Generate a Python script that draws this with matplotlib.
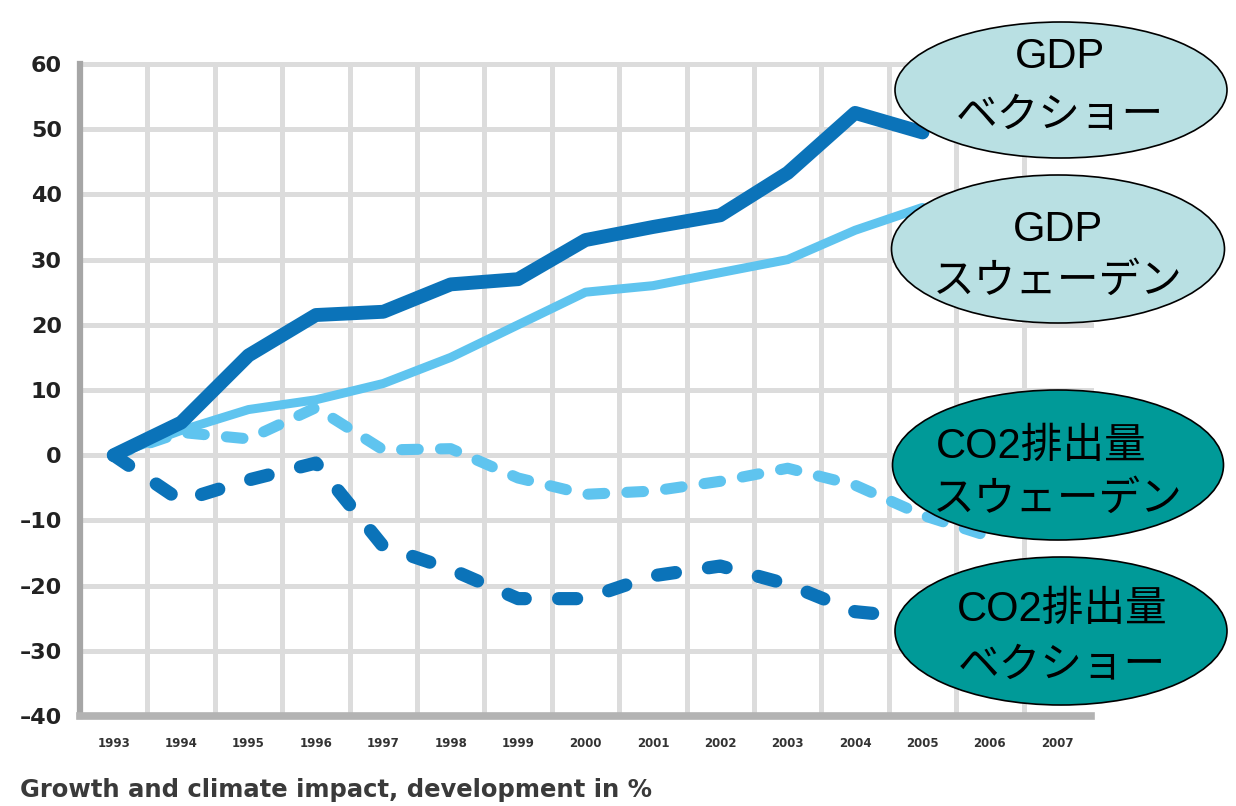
import matplotlib
matplotlib.use('Agg')
import matplotlib.pyplot as plt
from matplotlib.patches import Ellipse

plt.rcParams['lines.scale_dashes'] = False

# Данные (%)
years = [1993, 1994, 1995, 1996, 1997, 1998, 1999, 2000, 2001, 2002, 2003, 2004, 2005]
gdp_vaxjo = [0, 5, 15.3, 21.5, 22, 26.2, 27, 33, 35, 36.8, 43.3, 52.5, 49.5]
gdp_sweden = [0, 3.8, 7, 8.5, 11, 15, 20, 25, 26, 28, 30, 34.5, 38]
co2_vaxjo = [0, -7, -3.8, -1.2, -14, -17.5, -22, -22, -18.5, -17, -19.8, -24, -25]
years_co2_se = [1993, 1994, 1995, 1996, 1997, 1998, 1999, 2000, 2001, 2002, 2003, 2004, 2005, 2006]
co2_sweden = [0, 3.5, 2.5, 7.3, 0.8, 1, -3.5, -6, -5.5, -4, -2, -4.6, -9.2, -12.5]

axis_years = list(range(1993, 2008))
y_ticks = list(range(-40, 70, 10))
y_tick_labels = [str(v).replace('-', '\u2013') for v in y_ticks]
caption = 'Growth and climate impact, development in %'

# Подписи в эллипсах
bubble_labels = [('GDP', 'ベクショー'), ('GDP', 'スウェーデン'),
                 ('CO2排出量', 'スウェーデン'), ('CO2排出量', 'ベクショー')]

DARK = '#0b73b9'
LIGHT = '#5fc4ef'
W, H = 1236, 806

fig = plt.figure(figsize=(W / 100, H / 100), dpi=100)
ax = fig.add_axes([80 / W, 1 - 716 / H, 1011 / W, 652 / H])
ax.set_xlim(1992.5, 2007.5)
ax.set_ylim(-40, 60)

# Сетка
for v in y_ticks[1:]:
    ax.axhline(v, color='#dcdcdc', lw=3.6, zorder=0, clip_on=False)
for yr in axis_years[:-1]:
    ax.axvline(yr + 0.5, color='#dcdcdc', lw=3.6, zorder=0)

for s in ['top', 'right']:
    ax.spines[s].set_visible(False)
ax.spines['left'].set_color('#a6a6a6')
ax.spines['left'].set_linewidth(4.5)
ax.spines['bottom'].set_color('#b3b3b3')
ax.spines['bottom'].set_linewidth(5.5)
ax.spines['left'].set_zorder(1)
ax.spines['bottom'].set_zorder(1)

# Линии
ax.plot(years_co2_se, co2_sweden, color=LIGHT, lw=8, linestyle=(0, (12, 16)),
        dash_capstyle='round', dash_joinstyle='round', zorder=2)
ax.plot(years, co2_vaxjo, color=DARK, lw=9.5, linestyle=(0, (13, 24)),
        dash_capstyle='round', dash_joinstyle='round', zorder=2)
ax.plot(years, gdp_sweden, color=LIGHT, lw=6.5,
        solid_capstyle='round', solid_joinstyle='round', zorder=3)
ax.plot(years, gdp_vaxjo, color=DARK, lw=10,
        solid_capstyle='round', solid_joinstyle='round', zorder=4)

ax.set_yticks(y_ticks)
ax.set_yticklabels(y_tick_labels, fontsize=16, fontweight='bold', color='#222222')
ax.set_xticks(axis_years)
ax.set_xticklabels([str(y) for y in axis_years], fontsize=8.5, fontweight='bold', color='#333333')
ax.tick_params(axis='y', length=0, pad=13)
ax.tick_params(axis='x', length=0, pad=15)

fig.text(20 / W, 1 - 790 / H, caption, fontsize=17.5, fontweight='bold',
         color='#3a3a3a', ha='left', va='center')

# Эллипсы-подписи
centers = [(1061, 90), (1058, 249), (1058, 465), (1061, 631)]
sizes = [(332, 136), (333, 148), (331, 150), (332, 148)]
fills = ['#b9e0e3', '#b9e0e3', '#009a98', '#009a98']
text_pos = [((1060, 57), (1060, 115)), ((1058, 230), (1058, 282)),
            ((1041, 447), (1058, 500)), ((1062, 610), (1062, 665))]

for (cx, cy), (w, h), fc, lines, pos in zip(centers, sizes, fills, bubble_labels, text_pos):
    fig.add_artist(Ellipse((cx / W, 1 - cy / H), w / W, h / H, transform=fig.transFigure,
                           facecolor=fc, edgecolor='black', lw=1.2, zorder=10))
    for s, (tx, ty) in zip(lines, pos):
        fig.text(tx / W, 1 - ty / H, s, fontsize=30, ha='center', va='center',
                 family=['Liberation Sans', 'Noto Sans CJK JP'], color='black', zorder=11)

fig.savefig('out.png', dpi=100)
